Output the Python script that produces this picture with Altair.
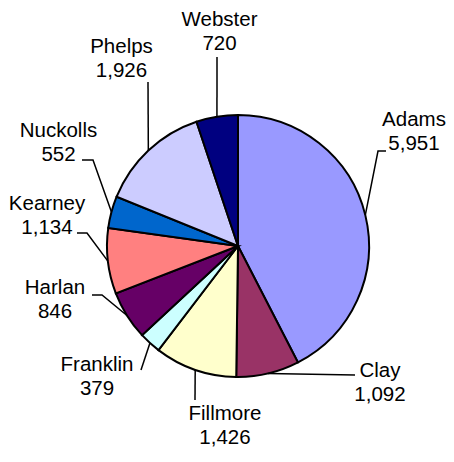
import math
import altair as alt
import pandas as pd

# ---- data ----
counties = ["Adams", "Clay", "Fillmore", "Franklin", "Harlan",
            "Kearney", "Nuckolls", "Phelps", "Webster"]
values = [5951, 1092, 1426, 379, 846, 1134, 552, 1926, 720]
colors = ["#9999FF", "#993366", "#FFFFCC", "#CCFFFF", "#660066",
          "#FF8080", "#0066CC", "#CCCCFF", "#000080"]

# ---- layout (page pixel coordinates) ----
CX, CY, R = 238, 246, 131
W = H = 400
PAD_L, PAD_T = CX - 8 - W // 2, CY - 8 - H // 2
PAD_R, PAD_B = 8, 4
# label anchor: centre x, first-line baseline y
label_pos = {
    "Adams": (414, 126), "Clay": (380, 377), "Fillmore": (225, 420),
    "Franklin": (97, 371), "Harlan": (55, 294), "Kearney": (47, 210),
    "Nuckolls": (58.5, 137), "Phelps": (121.5, 53), "Webster": (219.5, 26),
}
# leader-line points after the slice edge point
leader_pts = {
    "Adams": [(378, 151), (386, 151)],
    "Clay": [(355, 375)],
    "Fillmore": [(195, 400)],
    "Franklin": [(141, 370)],
    "Harlan": [(102, 295), (92, 295)],
    "Kearney": [(87, 233), (77, 233)],
    "Nuckolls": [(93, 160), (82, 160)],
    "Phelps": [(148, 82)],
    "Webster": [(217, 57)],
}

total = sum(values)
pie_df = pd.DataFrame({"county": counties, "value": values,
                       "idx": list(range(len(counties)))})

rows_line, rows_text = [], []
cum = 0
for name, v in zip(counties, values):
    mid = (cum + v / 2) / total * 2 * math.pi
    cum += v
    ex, ey = CX + R * math.sin(mid), CY - R * math.cos(mid)
    pts = [(ex, ey)] + leader_pts[name]
    for k, (px, py) in enumerate(pts):
        rows_line.append({"county": name, "seq": k, "px": px, "py": py})
    lx, ly = label_pos[name]
    rows_text.append({"county": name, "px": lx, "py": ly,
                      "label": f"{name}\n{v:,}"})

line_df = pd.DataFrame(rows_line)
text_df = pd.DataFrame(rows_text)

xs = alt.Scale(domain=[PAD_L + 8, PAD_L + 8 + W], nice=False, zero=False)
ys = alt.Scale(domain=[PAD_T + 8 + H, PAD_T + 8], nice=False, zero=False)

pie = alt.Chart(pie_df).mark_arc(outerRadius=R, stroke="black",
                                 strokeWidth=2).encode(
    theta=alt.Theta("value:Q", stack=True),
    order=alt.Order("idx:Q"),
    color=alt.Color("county:N", scale=alt.Scale(domain=counties, range=colors),
                    legend=None),
)

leaders = alt.Chart(line_df).mark_line(color="black", strokeWidth=1.5).encode(
    x=alt.X("px:Q", scale=xs, axis=None),
    y=alt.Y("py:Q", scale=ys, axis=None),
    detail="county:N",
    order="seq:Q",
)

labels = alt.Chart(text_df).mark_text(
    align="center", baseline="alphabetic", lineBreak="\n", lineHeight=24,
    fontSize=20.5, font="Liberation Sans", color="black",
).encode(
    x=alt.X("px:Q", scale=xs, axis=None),
    y=alt.Y("py:Q", scale=ys, axis=None),
    text="label:N",
)

chart = alt.layer(pie, leaders, labels).properties(
    width=W, height=H,
    padding={"left": PAD_L, "top": PAD_T, "right": PAD_R, "bottom": PAD_B},
    autosize=alt.AutoSizeParams(type="none"),
    background="white",
).configure_view(stroke=None)

chart.save("out.html", embed_options={"renderer": "svg", "actions": False})
